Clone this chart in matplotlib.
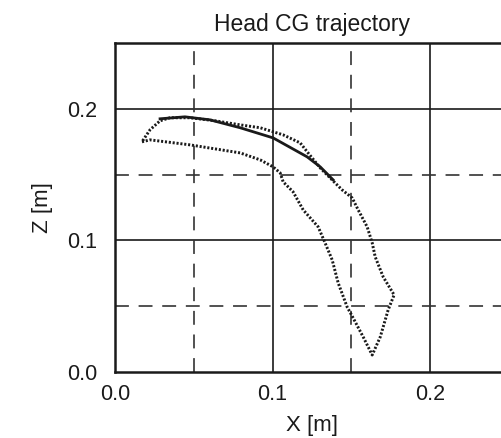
import matplotlib
matplotlib.use("Agg")
import matplotlib.pyplot as plt

plt.rcParams['font.family'] = ['Liberation Sans', 'DejaVu Sans']
plt.rcParams['lines.scale_dashes'] = False

# Head CG path, simulation (solid)
sim_x = [0.0286, 0.0444, 0.0603, 0.0794, 0.1003, 0.1219, 0.1302, 0.1384]
sim_z = [0.1924, 0.1939, 0.1916, 0.1856, 0.1779, 0.1635, 0.1559, 0.1460]

# Head CG path, experiment (dotted loop)
exp_x = [0.0171, 0.0222, 0.0476, 0.0794, 0.0921, 0.1003, 0.1048, 0.1067,
         0.1130, 0.1194, 0.1289, 0.1333, 0.1378, 0.1416, 0.1473, 0.1511,
         0.1575, 0.1632, 0.1683, 0.1733, 0.1771, 0.1702, 0.1651, 0.1632,
         0.1600, 0.1543, 0.1505, 0.1441, 0.1384, 0.1302, 0.1225, 0.1175,
         0.1067, 0.0921, 0.0794, 0.0635, 0.0476, 0.0349, 0.0286, 0.0222,
         0.0171]
exp_z = [0.1749, 0.1764, 0.1726, 0.1665, 0.1612, 0.1559, 0.1513, 0.1445,
         0.1369, 0.1232, 0.1103, 0.0981, 0.0852, 0.0677, 0.0494, 0.0411,
         0.0266, 0.0129, 0.0266, 0.0471, 0.0586, 0.0722, 0.0875, 0.0981,
         0.1103, 0.1232, 0.1323, 0.1384, 0.1452, 0.1551, 0.1665, 0.1741,
         0.1802, 0.1856, 0.1878, 0.1909, 0.1932, 0.1932, 0.1909, 0.1840,
         0.1749]

x_ticks = [0.0, 0.1, 0.2]
z_ticks = [0.0, 0.1, 0.2]
x_minor = [0.05, 0.15]
z_minor = [0.05, 0.15]

fig = plt.figure(figsize=(5.02, 4.38), dpi=100)
ax = fig.add_axes([115 / 502, 66 / 438, 394 / 502, 329 / 438])
ax.set_xlim(0, 0.25)
ax.set_ylim(0, 0.25)

ink = '#1a1a1a'
for v in x_ticks[1:]:
    ax.axvline(v, color=ink, lw=1.2, zorder=1)
for v in z_ticks[1:]:
    ax.axhline(v, color=ink, lw=1.2, zorder=1)
for v in x_minor:
    ax.axvline(v, color='#333333', lw=1.2, dashes=(10, 7), zorder=1)
for v in z_minor:
    ax.axhline(v, color='#333333', lw=1.2, dashes=(10, 7), zorder=1)

ax.plot(sim_x, sim_z, color=ink, lw=2.0, zorder=3)
ax.plot(exp_x, exp_z, color=ink, lw=2.1, dashes=(1.5, 1.3), zorder=3)

ax.set_xticks(x_ticks)
ax.set_yticks(z_ticks)
ax.set_xticklabels(['0.0', '0.1', '0.2'])
ax.set_yticklabels(['0.0', '0.1', '0.2'])
ax.tick_params(axis='x', length=0, pad=9, labelsize=15.5, colors=ink)
ax.tick_params(axis='y', length=0, pad=13, labelsize=15.5, colors=ink)

for s in ['left', 'bottom', 'top']:
    ax.spines[s].set_linewidth(1.8)
    ax.spines[s].set_color(ink)
ax.spines['right'].set_visible(False)

ax.set_xlabel('X [m]', fontsize=16, color=ink, labelpad=7)
ax.set_ylabel('Z [m]', fontsize=16, color=ink, labelpad=10)
ax.set_title('Head CG trajectory', fontsize=16.5, color=ink, pad=9)

fig.savefig('out.png', dpi=100)
